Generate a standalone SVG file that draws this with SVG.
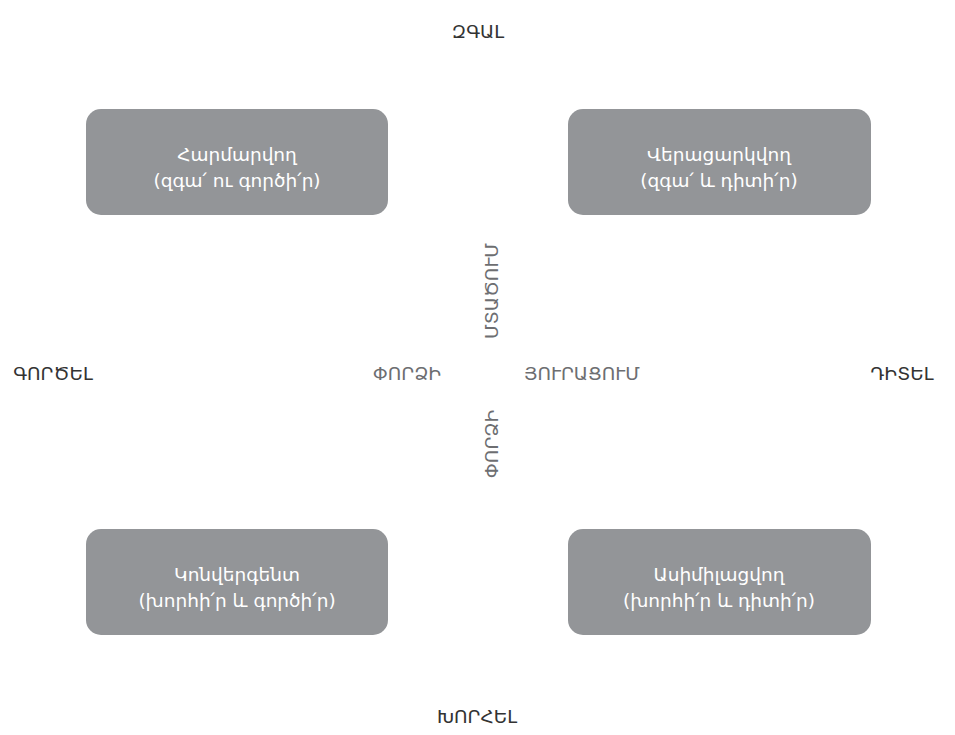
<svg xmlns="http://www.w3.org/2000/svg" width="955" height="735" viewBox="0 0 955 735">
  <style>
    .box { fill: #939598; }
    .boxtxt { fill: #ffffff; font-family: "DejaVu Sans", "Noto Sans", sans-serif; font-size: 18.5px; text-anchor: middle; }
    .pole { fill: #333333; font-family: "DejaVu Sans", "Noto Sans", sans-serif; font-size: 18.5px; text-anchor: middle; }
    .axis { fill: #6d6e71; font-family: "DejaVu Sans", "Noto Sans", sans-serif; font-size: 18.5px; text-anchor: middle; }
  </style>
  <rect width="955" height="735" fill="#ffffff"/>

  <!-- pole labels -->
  <g id="poles">
    <text class="pole" x="478" y="38">ԶԳԱԼ</text>
    <text class="pole" x="53" y="380">ԳՈՐԾԵԼ</text>
    <text class="pole" x="902" y="380">ԴԻՏԵԼ</text>
    <text class="pole" x="477" y="723">ԽՈՐՀԵԼ</text>
  </g>

  <!-- axis labels -->
  <g id="axis-labels">
    <text class="axis" x="407" y="380">ՓՈՐՁԻ</text>
    <text class="axis" x="582" y="380">ՅՈՒՐԱՑՈՒՄ</text>
    <text class="axis" transform="translate(498,291) rotate(-90)">ՄՏԱԾՈՒՄ</text>
    <text class="axis" transform="translate(498,444) rotate(-90)">ՓՈՐՁԻ</text>
  </g>

  <!-- learning styles -->
  <g id="accommodating">
    <rect class="box" x="86" y="109" width="302" height="106" rx="15"/>
    <text class="boxtxt" x="237" y="161">Հարմարվող</text>
    <text class="boxtxt" x="237" y="187">(զգա՛ ու գործի՛ր)</text>
  </g>
  <g id="diverging">
    <rect class="box" x="568" y="109" width="303" height="106" rx="15"/>
    <text class="boxtxt" x="719" y="161">Վերացարկվող</text>
    <text class="boxtxt" x="719" y="187">(զգա՛ և դիտի՛ր)</text>
  </g>
  <g id="converging">
    <rect class="box" x="86" y="529" width="302" height="106" rx="15"/>
    <text class="boxtxt" x="237" y="581">Կոնվերգենտ</text>
    <text class="boxtxt" x="237" y="607">(խորհի՛ր և գործի՛ր)</text>
  </g>
  <g id="assimilating">
    <rect class="box" x="568" y="529" width="303" height="106" rx="15"/>
    <text class="boxtxt" x="719" y="581">Ասիմիլացվող</text>
    <text class="boxtxt" x="719" y="607">(խորհի՛ր և դիտի՛ր)</text>
  </g>

  <g id="connectors"></g>
</svg>
